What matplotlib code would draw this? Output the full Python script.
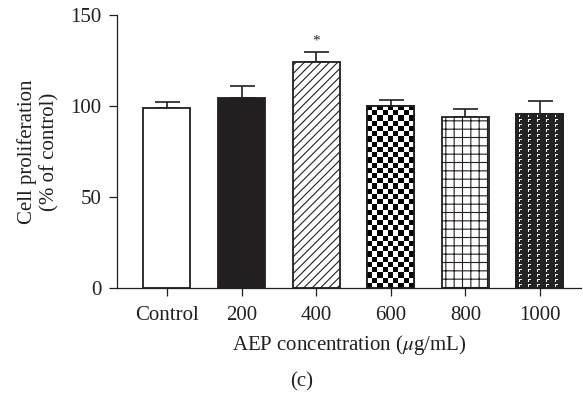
import numpy as np
import matplotlib
matplotlib.use("Agg")
import matplotlib.pyplot as plt

plt.rcParams["font.family"] = ["Liberation Serif", "DejaVu Serif"]
plt.rcParams["mathtext.fontset"] = "stix"
plt.rcParams["hatch.linewidth"] = 0.8

# data
groups = ["Control", "200", "400", "600", "800", "1000"]
means = [99.0, 104.6, 124.0, 100.2, 93.7, 95.5]
errs = [3.0, 6.5, 5.5, 3.0, 4.5, 7.0]
signif = ["", "", "*", "", "", ""]

dark = "#231f20"
width = 0.63
fs = 15

fig = plt.figure(figsize=(5.83, 3.96), dpi=100)
ax = fig.add_axes([0.2007, 0.2727, 0.7959, 0.6894])
x = np.arange(len(groups))

ax.set_xlim(-0.67, len(groups) - 1 + 0.55)
ax.set_ylim(0, 150)

# bar styles (face, hatch)
styles = [("white", None), (dark, None), ("white", "////"),
          ("white", None), ("white", "++"), (dark, None)]

bars = []
for i in range(len(groups)):
    face, hatch = styles[i]
    b = ax.bar(x[i], means[i], width, color=face, edgecolor=dark,
               linewidth=1.3, hatch=hatch, zorder=2)[0]
    bars.append(b)

# pixel scale of the axes, used only to size the fill patterns
px_per_x = 0.7959 * 583 / (ax.get_xlim()[1] - ax.get_xlim()[0])
px_per_y = 0.6894 * 396 / 150.0


def pattern_fill(bar, kind):
    x0 = bar.get_x()
    w = bar.get_width()
    h = bar.get_height()
    if kind == "checker":
        ncol = 9
        nrow = int(round(h * px_per_y / (w * px_per_x / ncol)))
        rr, cc = np.indices((nrow, ncol))
        img = ((rr + cc) % 2).astype(float)
    else:
        ncol = int(round(w * px_per_x))
        nrow = int(round(h * px_per_y))
        rr, cc = np.indices((nrow, ncol))
        img = np.full((nrow, ncol), 0.14)
        pr = rr % 5
        pc = (cc - 3) % 9
        mark = ((pr == 0) & (pc < 3)) | ((pr < 3) & (pc == 0))
        img[mark] = 0.95
    im = ax.imshow(img, cmap="gray", vmin=0, vmax=1, interpolation="nearest",
                   extent=[x0, x0 + w, 0, h], origin="upper",
                   aspect="auto", zorder=2.1)
    im.set_clip_path(bar)
    # redraw outline on top
    ax.bar(bar.get_x() + w / 2, h, w, color="none", edgecolor=dark,
           linewidth=1.3, zorder=2.2)


pattern_fill(bars[3], "checker")
pattern_fill(bars[5], "dots")
ax.set_xlim(-0.67, len(groups) - 1 + 0.55)
ax.set_ylim(0, 150)

ax.errorbar(x, means, yerr=[np.zeros(len(errs)), errs], fmt="none",
            ecolor=dark, elinewidth=1.2, capsize=9, capthick=1.2, zorder=1.5)

for i, s in enumerate(signif):
    if s:
        ax.text(x[i], means[i] + errs[i] + 2.5, s, ha="center", va="bottom",
                fontsize=11, color=dark)

ax.spines["top"].set_visible(False)
ax.spines["right"].set_visible(False)
ax.spines["left"].set_color(dark)
ax.spines["bottom"].set_color(dark)
ax.spines["left"].set_linewidth(0.9)
ax.spines["bottom"].set_linewidth(0.9)

ax.set_xticks(x)
ax.set_xticklabels(groups)
ax.set_yticks([0, 50, 100, 150])
ax.tick_params(axis="both", direction="out", length=6, width=0.9,
               color=dark, labelsize=fs, labelcolor=dark)
ax.tick_params(axis="x", pad=7)
ax.tick_params(axis="y", pad=5)

ax.set_ylabel("Cell proliferation\n(% of control)", fontsize=fs,
              color=dark, labelpad=8, linespacing=1.2)
ax.set_xlabel(r"AEP concentration ($\mu$g/mL)", fontsize=fs,
              color=dark, labelpad=6)

fig.text(0.517, 0.035, "(c)", ha="center", va="center", fontsize=fs,
         color=dark)

fig.savefig("out.png", dpi=100)
